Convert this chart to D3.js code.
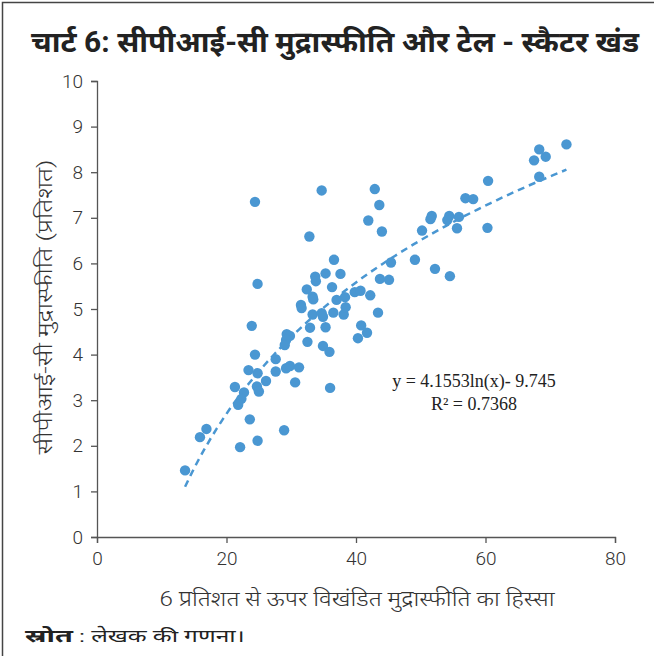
<!DOCTYPE html>
<html>
<head>
<meta charset="utf-8">
<script src="https://cdn.jsdelivr.net/npm/d3@7"></script>
<style>
  body { margin: 0; background: #fff; }
  svg { display: block; }
</style>
</head>
<body>
<svg id="chart" width="654" height="656"></svg>
<script>

// share of disaggregated inflation above 6% (x) vs CPI-C inflation (y)
const shareAbove6 = [
  13.6, 15.9, 16.9, 22.1, 21.3, 22.7, 22.3, 21.8, 23.4, 23.6,
  23.9, 24.4, 24.4, 24.8, 24.8, 24.7, 25.0, 24.8, 26.1, 27.6,
  27.6, 28.9, 29.3, 29.8, 29.2, 29.0, 29.2, 29.8, 31.2, 30.6,
  31.5, 31.6, 32.4, 32.5, 32.8, 32.9, 33.3, 33.4, 33.3, 33.7,
  33.8, 34.7, 34.9, 34.7, 34.9, 35.3, 35.3, 35.9, 36.0, 36.3,
  36.5, 36.6, 37.0, 37.6, 38.3, 38.1, 38.4, 39.8, 40.7, 40.3,
  40.8, 41.7, 41.9, 42.2, 42.9, 43.4, 43.6, 43.7, 44.0, 45.1,
  45.4, 49.1, 50.2, 51.7, 51.5, 52.2, 54.4, 54.1, 54.5, 55.6,
  55.9, 56.9, 58.1, 60.4, 60.3, 67.5, 68.3, 69.3, 68.3, 72.5
];
const cpiInflation = [
  1.46, 2.19, 2.37, 1.97, 3.29, 3.17, 3.03, 2.90, 3.66, 2.58,
  4.63, 4.00, 7.35, 5.55, 3.59, 3.30, 3.19, 2.11, 3.42, 3.90,
  3.63, 2.34, 4.45, 4.41, 4.32, 4.21, 3.70, 3.75, 3.72, 3.39,
  5.09, 5.02, 5.43, 4.28, 6.59, 4.59, 5.27, 5.21, 4.88, 5.71,
  5.61, 4.91, 4.83, 7.60, 4.19, 5.78, 4.60, 4.06, 3.27, 5.48,
  4.92, 6.08, 5.20, 5.77, 5.26, 4.88, 5.04, 5.37, 5.40, 4.36,
  4.64, 4.48, 6.94, 5.30, 7.63, 4.92, 7.28, 5.66, 6.70, 5.64,
  6.02, 6.08, 6.72, 7.04, 6.97, 5.88, 7.04, 6.95, 5.72, 6.77,
  7.02, 7.43, 7.41, 7.81, 6.78, 8.26, 8.50, 8.34, 7.90, 8.61
];

const xTicks = [0, 20, 40, 60, 80];
const yTicks = [0, 1, 2, 3, 4, 5, 6, 7, 8, 9, 10];

// log trendline: y = a ln(x) + b
const fitA = 4.1553;
const fitB = -9.745;
const fitLabel = ['y = 4.1553ln(x)- 9.745', 'R² = 0.7368'];

const titleText = 'चार्ट 6: सीपीआई-सी मुद्रास्फीति और टेल - स्कैटर खंड';
const xLabel = '6 प्रतिशत से ऊपर विखंडित मुद्रास्फीति का हिस्सा';
const yLabel = 'सीपीआई-सी मुद्रास्फीति (प्रतिशत)';

const blue = '#4a97d2';
const uiFont = 'Roboto, "Noto Sans", sans-serif';

const svg = d3.select('#chart');

// frame
svg.append('path')
    .attr('d', 'M2.5,656 V2.5 H654')
    .attr('fill', 'none')
    .attr('stroke', '#444')
    .attr('stroke-width', 1.5);

svg.append('text')
    .text(titleText)
    .attr('x', 335)
    .attr('y', 52)
    .attr('text-anchor', 'middle')
    .attr('textLength', 608)
    .attr('lengthAdjust', 'spacingAndGlyphs')
    .style('font-family', uiFont)
    .style('font-size', '29px')
    .style('font-weight', '700')
    .attr('fill', '#222');

const x = d3.scaleLinear().domain([0, 80]).range([97, 615]);
const y = d3.scaleLinear().domain([0, 10]).range([537, 81]);

const yAxis = svg.append('g')
    .attr('transform', `translate(${x(0)},0)`)
    .call(d3.axisLeft(y).tickValues(yTicks).tickSize(6).tickPadding(8));

const xAxis = svg.append('g')
    .attr('transform', `translate(0,${y(0)})`)
    .call(d3.axisBottom(x).tickValues(xTicks).tickSize(6).tickPadding(9));

[xAxis, yAxis].forEach((ax) => {
  ax.select('.domain').attr('stroke', '#555').attr('stroke-width', 1.3);
  ax.selectAll('.tick line').attr('stroke', '#555').attr('stroke-width', 1.3);
  ax.selectAll('.tick text')
      .attr('fill', '#333')
      .style('font-family', uiFont)
      .style('font-size', '19px')
      .style('font-weight', '300');
});

// trendline over the range of the data
const xMin = d3.min(shareAbove6);
const xMax = d3.max(shareAbove6);
const fitPoints = d3.range(0, 61).map((i) => {
  const v = xMin + (xMax - xMin) * i / 60;
  return [v, fitA * Math.log(v) + fitB];
});

svg.append('path')
    .datum(fitPoints)
    .attr('d', d3.line().x((d) => x(d[0])).y((d) => y(d[1])))
    .attr('fill', 'none')
    .attr('stroke', blue)
    .attr('stroke-width', 2.5)
    .attr('stroke-dasharray', '7,5');

svg.append('g')
    .selectAll('circle')
    .data(d3.zip(shareAbove6, cpiInflation))
    .enter()
    .append('circle')
      .attr('cx', (d) => x(d[0]))
      .attr('cy', (d) => y(d[1]))
      .attr('r', 5.2)
      .attr('fill', blue);

svg.append('g')
    .selectAll('text')
    .data(fitLabel)
    .enter()
    .append('text')
      .text((d) => d)
      .attr('x', 474)
      .attr('y', (d, i) => 387 + i * 23)
      .attr('text-anchor', 'middle')
      .style('font-family', '"Liberation Serif", serif')
      .style('font-size', '18px')
      .attr('fill', '#222');

svg.append('text')
    .text(xLabel)
    .attr('x', 357)
    .attr('y', 606)
    .attr('text-anchor', 'middle')
    .attr('textLength', 395)
    .attr('lengthAdjust', 'spacingAndGlyphs')
    .style('font-family', uiFont)
    .style('font-size', '21px')
    .style('font-weight', '300')
    .attr('fill', '#333');

svg.append('text')
    .text(yLabel)
    .attr('transform', 'translate(52,307) rotate(-90)')
    .attr('text-anchor', 'middle')
    .attr('textLength', 295)
    .attr('lengthAdjust', 'spacingAndGlyphs')
    .style('font-family', uiFont)
    .style('font-size', '20px')
    .style('font-weight', '300')
    .attr('fill', '#333');

const source = svg.append('text')
    .attr('x', 25)
    .attr('y', 642)
    .style('font-family', uiFont)
    .style('font-size', '17px')
    .attr('fill', '#222');
source.append('tspan').text('स्रोत').style('font-weight', '700')
    .attr('textLength', 48).attr('lengthAdjust', 'spacingAndGlyphs');
source.append('tspan').text(' : लेखक की गणना।')
    .attr('textLength', 172).attr('lengthAdjust', 'spacingAndGlyphs');

</script>
</body>
</html>
